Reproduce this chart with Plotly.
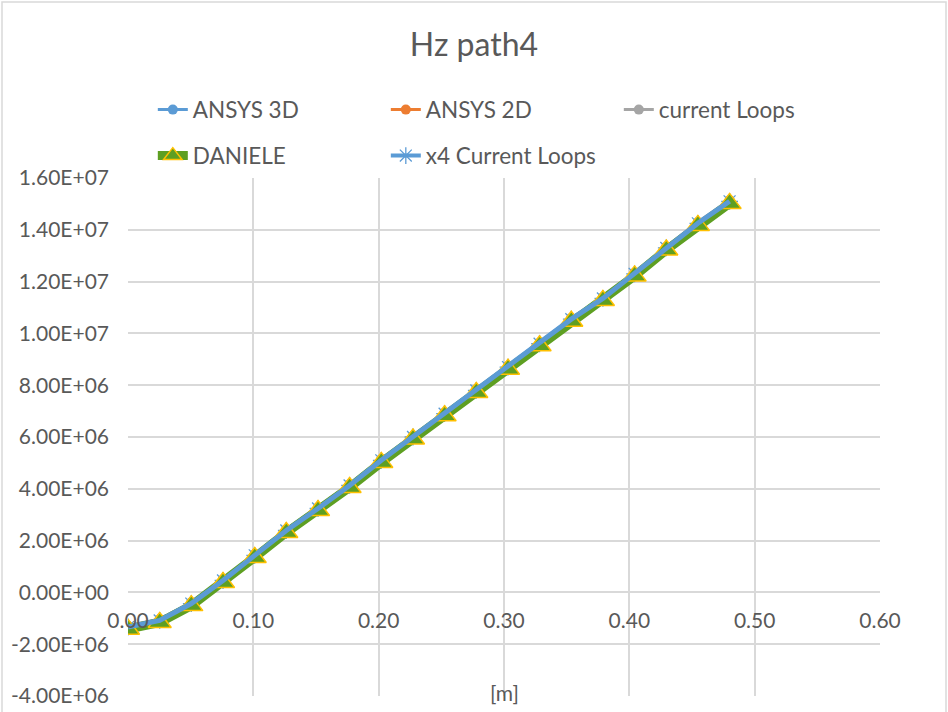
import plotly.graph_objects as go

# Sample positions along path4 [m]
x_m = [0.0, 0.0253, 0.0505, 0.0758, 0.1011, 0.1263, 0.1516, 0.1768, 0.2021, 0.2274,
       0.2526, 0.2779, 0.3032, 0.3284, 0.3537, 0.3789, 0.4042, 0.4295, 0.4547, 0.48]

# Hz along path4 for each model
ansys_3d = [-1.36e6, -1.10e6, -0.44e6, 0.45e6, 1.42e6, 2.38e6, 3.23e6, 4.12e6, 5.09e6, 5.99e6,
            6.89e6, 7.79e6, 8.69e6, 9.59e6, 10.54e6, 11.34e6, 12.29e6, 13.29e6, 14.24e6, 15.09e6]
ansys_2d = [-1.32e6, -1.06e6, -0.41e6, 0.48e6, 1.45e6, 2.41e6, 3.26e6, 4.15e6, 5.12e6, 6.02e6,
            6.92e6, 7.82e6, 8.72e6, 9.62e6, 10.57e6, 11.37e6, 12.32e6, 13.32e6, 14.27e6, 15.12e6]
current_loops = [-1.29e6, -1.03e6, -0.38e6, 0.51e6, 1.48e6, 2.44e6, 3.29e6, 4.18e6, 5.15e6, 6.05e6,
                 6.95e6, 7.85e6, 8.75e6, 9.65e6, 10.60e6, 11.40e6, 12.35e6, 13.35e6, 14.30e6, 15.15e6]
daniele = [-1.42e6, -1.16e6, -0.51e6, 0.38e6, 1.35e6, 2.31e6, 3.16e6, 4.05e6, 5.02e6, 5.92e6,
           6.82e6, 7.72e6, 8.62e6, 9.52e6, 10.47e6, 11.27e6, 12.22e6, 13.22e6, 14.17e6, 15.02e6]
x4_current_loops = [-1.34e6, -1.08e6, -0.43e6, 0.46e6, 1.43e6, 2.39e6, 3.24e6, 4.13e6, 5.10e6, 6.00e6,
                    6.90e6, 7.80e6, 8.70e6, 9.60e6, 10.55e6, 11.35e6, 12.30e6, 13.30e6, 14.25e6, 15.10e6]

# Axis ticks
x_ticks = [0.0, 0.1, 0.2, 0.3, 0.4, 0.5, 0.6]
x_tick_labels = ["0.00", "0.10", "0.20", "0.30", "0.40", "0.50", "0.60"]
y_ticks = [-4e6, -2e6, 0, 2e6, 4e6, 6e6, 8e6, 1e7, 1.2e7, 1.4e7, 1.6e7]
y_tick_labels = ["-4.00E+06", "-2.00E+06", "0.00E+00", "2.00E+06", "4.00E+06", "6.00E+06",
                 "8.00E+06", "1.00E+07", "1.20E+07", "1.40E+07", "1.60E+07"]

FONT = "Lato"
TXT = "#595959"
GRID = "#D9D9D9"
BLUE = "#5B9BD5"
ORANGE = "#ED7D31"
GRAY = "#A5A5A5"
GREEN = "#5E9F22"
GOLD = "#FFC000"

fig = go.Figure()

fig.add_trace(go.Scatter(
    x=x_m, y=ansys_3d, name="ANSYS 3D", mode="lines+markers",
    line=dict(color=BLUE, width=3), marker=dict(symbol="circle", size=10, color=BLUE),
    legend="legend",
))
fig.add_trace(go.Scatter(
    x=x_m, y=ansys_2d, name="ANSYS 2D", mode="lines+markers",
    line=dict(color=ORANGE, width=3), marker=dict(symbol="circle", size=10, color=ORANGE),
    legend="legend",
))
fig.add_trace(go.Scatter(
    x=x_m, y=current_loops, name="current Loops", mode="lines+markers",
    line=dict(color=GRAY, width=3), marker=dict(symbol="circle", size=10, color=GRAY),
    legend="legend",
))
# x4 loops: markers sit beneath the DANIELE triangles, its line is redrawn on top below
fig.add_trace(go.Scatter(
    x=x_m, y=x4_current_loops, name="x4 Current Loops", mode="lines+markers",
    line=dict(color=BLUE, width=4),
    marker=dict(symbol="asterisk-open", size=14, line=dict(color=BLUE, width=1.3)),
    legend="legend2", legendrank=2,
))
fig.add_trace(go.Scatter(
    x=x_m, y=daniele, name="DANIELE", mode="lines+markers",
    line=dict(color=GREEN, width=9),
    marker=dict(symbol="triangle-up", size=20, color=GREEN, line=dict(color=GOLD, width=1.5)),
    legend="legend2", legendrank=1,
))
fig.add_trace(go.Scatter(
    x=x_m, y=x4_current_loops, mode="lines", showlegend=False, hoverinfo="skip",
    line=dict(color=BLUE, width=5),
))

axis_font = dict(family=FONT, size=21, color=TXT)
legend_common = dict(
    orientation="h", xanchor="left", yanchor="middle",
    font=dict(family=FONT, size=22.5, color=TXT),
    bgcolor="rgba(0,0,0,0)", entrywidthmode="pixels", entrywidth=188,
    itemclick=False, itemdoubleclick=False,
)

fig.update_layout(
    template="none",
    width=948, height=712,
    margin=dict(l=128, r=68, t=178, b=16, autoexpand=False),
    paper_bgcolor="white", plot_bgcolor="white",
    title=dict(text="Hz path4", x=0.5, xref="container", xanchor="center",
               y=1 - 45 / 712, yref="container", yanchor="middle",
               font=dict(family=FONT, size=32, color=TXT)),
    legend=dict(x=0.033, y=1.1313, **legend_common),
    legend2=dict(x=0.033, y=1.0425, **legend_common),
    xaxis=dict(
        range=[0, 0.6], tickvals=x_ticks, ticktext=x_tick_labels,
        showgrid=True, gridcolor=GRID, gridwidth=1.6,
        zeroline=False, showline=False, ticks="",
        anchor="free", position=0.2, ticklabelstandoff=14,
        tickfont=axis_font, automargin=False,
    ),
    yaxis=dict(
        range=[-4e6, 1.6e7], tickvals=y_ticks, ticktext=y_tick_labels,
        showgrid=True, gridcolor=GRID, gridwidth=1.6,
        zeroline=True, zerolinecolor=GRID, zerolinewidth=1.6,
        showline=False, ticks="", ticklabelstandoff=18,
        tickfont=axis_font, automargin=False,
    ),
    annotations=[dict(
        text="[m]", x=0.501, y=0.0077, xref="paper", yref="paper",
        xanchor="center", yanchor="middle", showarrow=False,
        font=dict(family=FONT, size=21, color=TXT),
    )],
    shapes=[dict(
        type="rect", xref="paper", yref="paper",
        x0=(2 - 128) / 752, x1=(946 - 128) / 752,
        y0=(696 - 716) / 518, y1=(696 - 2) / 518,
        line=dict(color=GRID, width=1.5), fillcolor="rgba(0,0,0,0)", layer="below",
    )],
)

fig.write_html("out.html")
